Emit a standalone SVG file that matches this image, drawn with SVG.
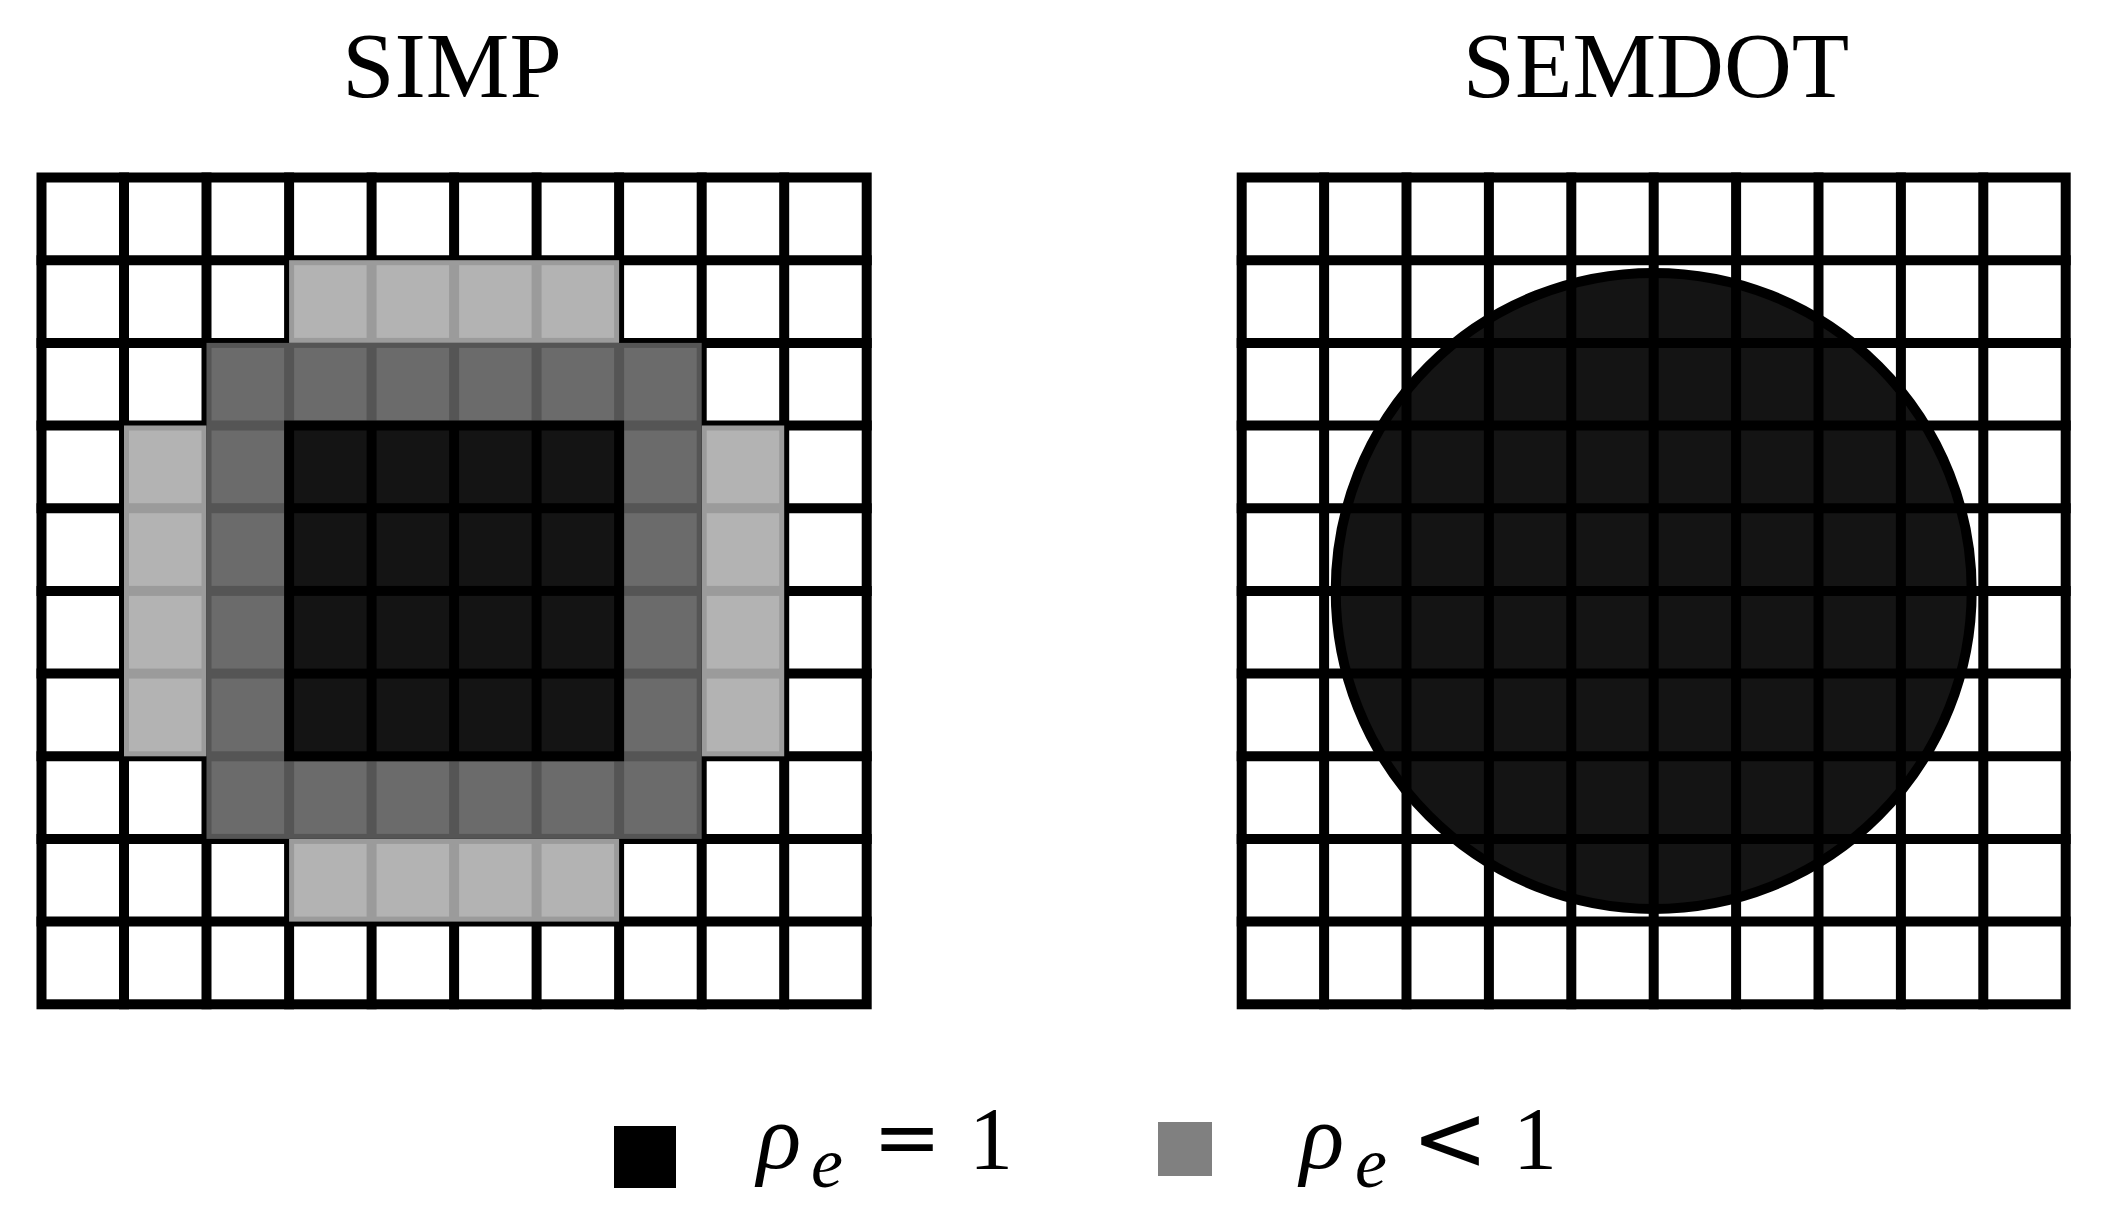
<svg xmlns="http://www.w3.org/2000/svg" width="2111" height="1222" viewBox="0 0 2111 1222">
<style>
.title{font-family:"Liberation Serif","Times New Roman",serif;font-size:94px;fill:#000;text-anchor:middle}
.grid{stroke:#000;stroke-width:10;fill:none;stroke-linecap:square}
.lgl{fill:#9b9b9b}.lgc{fill:#b3b3b3}
.dgl{fill:#555555}.dgc{fill:#6b6b6b}
.bkl{fill:#000}.bkc{fill:#141414}
.math{font-family:"Liberation Serif","Times New Roman",serif;fill:#000}
.op{font-family:"DejaVu Sans",sans-serif;fill:#000}
.it{font-style:italic}
</style>
<rect width="2111" height="1222" fill="#fff"/>

<g id="simp">
<text class="title" x="452" y="97">SIMP</text>
<g id="simp-grid" class="grid">
<rect x="41.5" y="177.5" width="825.2" height="826.8"/>
<path d="M124 177.5V1004.3M206.5 177.5V1004.3M289.1 177.5V1004.3M371.6 177.5V1004.3M454.1 177.5V1004.3M536.6 177.5V1004.3M619.1 177.5V1004.3M701.7 177.5V1004.3M784.2 177.5V1004.3"/>
<path d="M41.5 260.2H866.7M41.5 342.9H866.7M41.5 425.5H866.7M41.5 508.2H866.7M41.5 590.9H866.7M41.5 673.6H866.7M41.5 756.3H866.7M41.5 838.9H866.7M41.5 921.6H866.7"/>
</g>
<g id="simp-light">
<rect class="lgl" x="289.1" y="260.2" width="330" height="82.7"/>
<rect class="lgc" x="294.1" y="265.2" width="72.5" height="72.7"/>
<rect class="lgc" x="376.6" y="265.2" width="72.5" height="72.7"/>
<rect class="lgc" x="459.1" y="265.2" width="72.5" height="72.7"/>
<rect class="lgc" x="541.6" y="265.2" width="72.5" height="72.7"/>
<rect class="lgl" x="289.1" y="838.9" width="330" height="82.7"/>
<rect class="lgc" x="294.1" y="843.9" width="72.5" height="72.7"/>
<rect class="lgc" x="376.6" y="843.9" width="72.5" height="72.7"/>
<rect class="lgc" x="459.1" y="843.9" width="72.5" height="72.7"/>
<rect class="lgc" x="541.6" y="843.9" width="72.5" height="72.7"/>
<rect class="lgl" x="124" y="425.5" width="82.5" height="330.8"/>
<rect class="lgc" x="129" y="430.5" width="72.5" height="72.7"/>
<rect class="lgc" x="129" y="513.2" width="72.5" height="72.7"/>
<rect class="lgc" x="129" y="595.9" width="72.5" height="72.7"/>
<rect class="lgc" x="129" y="678.6" width="72.5" height="72.7"/>
<rect class="lgl" x="701.7" y="425.5" width="82.5" height="330.8"/>
<rect class="lgc" x="706.7" y="430.5" width="72.5" height="72.7"/>
<rect class="lgc" x="706.7" y="513.2" width="72.5" height="72.7"/>
<rect class="lgc" x="706.7" y="595.9" width="72.5" height="72.7"/>
<rect class="lgc" x="706.7" y="678.6" width="72.5" height="72.7"/>
</g>
<g id="simp-dark">
<rect class="dgl" x="206.5" y="342.9" width="495.2" height="496"/>
<rect class="dgc" x="211.5" y="347.9" width="72.6" height="72.6"/>
<rect class="dgc" x="294.1" y="347.9" width="72.5" height="72.6"/>
<rect class="dgc" x="376.6" y="347.9" width="72.5" height="72.6"/>
<rect class="dgc" x="459.1" y="347.9" width="72.5" height="72.6"/>
<rect class="dgc" x="541.6" y="347.9" width="72.5" height="72.6"/>
<rect class="dgc" x="624.1" y="347.9" width="72.6" height="72.6"/>
<rect class="dgc" x="211.5" y="761.3" width="72.6" height="72.6"/>
<rect class="dgc" x="294.1" y="761.3" width="72.5" height="72.6"/>
<rect class="dgc" x="376.6" y="761.3" width="72.5" height="72.6"/>
<rect class="dgc" x="459.1" y="761.3" width="72.5" height="72.6"/>
<rect class="dgc" x="541.6" y="761.3" width="72.5" height="72.6"/>
<rect class="dgc" x="624.1" y="761.3" width="72.6" height="72.6"/>
<rect class="dgc" x="211.5" y="430.5" width="72.6" height="72.7"/>
<rect class="dgc" x="211.5" y="513.2" width="72.6" height="72.7"/>
<rect class="dgc" x="211.5" y="595.9" width="72.6" height="72.7"/>
<rect class="dgc" x="211.5" y="678.6" width="72.6" height="72.7"/>
<rect class="dgc" x="624.1" y="430.5" width="72.6" height="72.7"/>
<rect class="dgc" x="624.1" y="513.2" width="72.6" height="72.7"/>
<rect class="dgc" x="624.1" y="595.9" width="72.6" height="72.7"/>
<rect class="dgc" x="624.1" y="678.6" width="72.6" height="72.7"/>
</g>
<g id="simp-solid">
<rect class="bkl" x="284.1" y="420.5" width="340" height="340.8"/>
<rect class="bkc" x="294.1" y="430.5" width="72.5" height="72.7"/>
<rect class="bkc" x="376.6" y="430.5" width="72.5" height="72.7"/>
<rect class="bkc" x="459.1" y="430.5" width="72.5" height="72.7"/>
<rect class="bkc" x="541.6" y="430.5" width="72.5" height="72.7"/>
<rect class="bkc" x="294.1" y="513.2" width="72.5" height="72.7"/>
<rect class="bkc" x="376.6" y="513.2" width="72.5" height="72.7"/>
<rect class="bkc" x="459.1" y="513.2" width="72.5" height="72.7"/>
<rect class="bkc" x="541.6" y="513.2" width="72.5" height="72.7"/>
<rect class="bkc" x="294.1" y="595.9" width="72.5" height="72.7"/>
<rect class="bkc" x="376.6" y="595.9" width="72.5" height="72.7"/>
<rect class="bkc" x="459.1" y="595.9" width="72.5" height="72.7"/>
<rect class="bkc" x="541.6" y="595.9" width="72.5" height="72.7"/>
<rect class="bkc" x="294.1" y="678.6" width="72.5" height="72.7"/>
<rect class="bkc" x="376.6" y="678.6" width="72.5" height="72.7"/>
<rect class="bkc" x="459.1" y="678.6" width="72.5" height="72.7"/>
<rect class="bkc" x="541.6" y="678.6" width="72.5" height="72.7"/>
</g>
</g>

<g id="semdot">
<text class="title" x="1656" y="97">SEMDOT</text>
<circle id="semdot-disc" cx="1653.7" cy="590.9" r="318" fill="#141414" stroke="#000" stroke-width="10"/>
<g id="semdot-grid" class="grid">
<rect x="1241.7" y="177.5" width="824" height="826.8"/>
<path d="M1324.1 177.5V1004.3M1406.5 177.5V1004.3M1488.9 177.5V1004.3M1571.3 177.5V1004.3M1653.7 177.5V1004.3M1736.1 177.5V1004.3M1818.5 177.5V1004.3M1900.9 177.5V1004.3M1983.3 177.5V1004.3"/>
<path d="M1241.7 260.2H2065.7M1241.7 342.9H2065.7M1241.7 425.5H2065.7M1241.7 508.2H2065.7M1241.7 590.9H2065.7M1241.7 673.6H2065.7M1241.7 756.3H2065.7M1241.7 838.9H2065.7M1241.7 921.6H2065.7"/>
</g>
</g>

<g id="legend-solid">
<rect x="614" y="1126" width="62" height="62" fill="#000"/>
<text class="math it" x="757" y="1168" font-size="92">ρ</text>
<text class="math it" x="811" y="1187" font-size="72">e</text>
<text class="op" x="907" y="1165" font-size="82" text-anchor="middle">=</text>
<text class="math" x="991" y="1168" font-size="88" text-anchor="middle">1</text>
</g>
<g id="legend-partial">
<rect x="1158" y="1122" width="54" height="54" fill="#808080"/>
<text class="math it" x="1300" y="1168" font-size="92">ρ</text>
<text class="math it" x="1355" y="1187" font-size="72">e</text>
<text class="op" x="1450" y="1170" font-size="92" text-anchor="middle">&lt;</text>
<text class="math" x="1535" y="1168" font-size="88" text-anchor="middle">1</text>
</g>
</svg>
